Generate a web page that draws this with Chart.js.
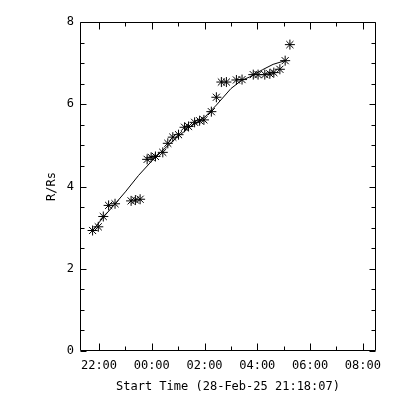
<!DOCTYPE html>
<html>
<head>
<meta charset="utf-8">
<script src="https://cdn.jsdelivr.net/npm/chart.js@4"></script>
<style>body{margin:0;background:#fff}</style>
</head>
<body>
<canvas id="heightTime" width="400" height="400"></canvas>
<script>
const xTitle = "Start Time (28-Feb-25 21:18:07)";
const yTitle = "R/Rs";

// times in hours after 28-Feb 00:00
const obsTime = [21.757, 21.973, 22.163, 22.365, 22.608, 23.217, 23.38, 23.559,
  23.825, 23.977, 24.14, 24.418, 24.608, 24.798, 25.015, 25.243, 25.395, 25.624,
  25.814, 25.977, 26.259, 26.449, 26.639, 26.829, 27.209, 27.422, 27.848, 28.03,
  28.285, 28.475, 28.627, 28.856, 29.057, 29.236];
const obsHeight = [2.93, 3.02, 3.27, 3.54, 3.58, 3.65, 3.67, 3.69,
  4.66, 4.71, 4.73, 4.83, 5.05, 5.20, 5.26, 5.44, 5.46, 5.56,
  5.60, 5.62, 5.82, 6.17, 6.54, 6.54, 6.59, 6.60, 6.72, 6.72,
  6.72, 6.74, 6.77, 6.85, 7.06, 7.45];

const fitTime = [21.757, 22.16, 22.6, 23.0, 23.5, 24.0, 24.5, 25.0, 25.5, 26.0,
  26.45, 27.0, 27.4, 27.7, 28.2, 28.6, 29.057];
const fitHeight = [2.93, 3.25, 3.57, 3.87, 4.27, 4.62, 4.93, 5.22, 5.47, 5.68,
  5.98, 6.38, 6.58, 6.66, 6.84, 6.97, 7.06];

const xMajor = [22, 24, 26, 28, 30, 32];
const xMinor = [23, 25, 27, 29, 31];
const yMajor = [0, 2, 4, 6, 8];
const yMinor = [0.5, 1, 1.5, 2.5, 3, 3.5, 4.5, 5, 5.5, 6.5, 7, 7.5];

const font = { family: "'DejaVu Sans Mono'", size: 12 };

function hhmm(h) {
  return String(Math.round(h) % 24).padStart(2, "0") + ":00";
}

// IDL style box with inward ticks on all four sides
const idlFrame = {
  id: "idlFrame",
  afterDraw(chart) {
    const { ctx, chartArea: a, scales } = chart;
    const L = Math.round(a.left) + 0.5, R = Math.round(a.right) - 0.5;
    const T = Math.round(a.top) + 0.5, B = Math.round(a.bottom) - 0.5;
    ctx.save();
    ctx.strokeStyle = "#000";
    ctx.lineWidth = 1;
    ctx.beginPath();
    ctx.rect(L, T, R - L, B - T);
    const xt = (vals, len) => vals.forEach(v => {
      const p = Math.round(scales.x.getPixelForValue(v)) + 0.5;
      ctx.moveTo(p, B); ctx.lineTo(p, B - len);
      ctx.moveTo(p, T); ctx.lineTo(p, T + len);
    });
    const yt = (vals, len) => vals.forEach(v => {
      const p = Math.round(scales.y.getPixelForValue(v)) + 0.5;
      ctx.moveTo(L, p); ctx.lineTo(L + len, p);
      ctx.moveTo(R, p); ctx.lineTo(R - len, p);
    });
    xt(xMajor, 7); xt(xMinor, 4);
    yt(yMajor, 6); yt(yMinor, 4);
    ctx.stroke();
    ctx.restore();
  }
};

new Chart(document.getElementById("heightTime"), {
  type: "scatter",
  data: {
    datasets: [
      {
        data: fitTime.map((t, i) => ({ x: t, y: fitHeight[i] })),
        showLine: true,
        borderColor: "#000",
        borderWidth: 1,
        pointRadius: 0
      },
      {
        data: obsTime.map((t, i) => ({ x: t, y: obsHeight[i] })),
        pointStyle: "star",
        pointRadius: 5,
        borderColor: "#000",
        backgroundColor: "#000",
        borderWidth: 1
      }
    ]
  },
  options: {
    responsive: false,
    animation: false,
    events: [],
    layout: { padding: { top: 22, right: 24, left: 0, bottom: 0 } },
    plugins: { legend: { display: false }, tooltip: { enabled: false } },
    scales: {
      x: {
        type: "linear",
        min: 21.28,
        max: 32.5,
        afterBuildTicks: s => { s.ticks = xMajor.map(v => ({ value: v })); },
        afterFit: s => { s.height = 49; },
        grid: { display: false, drawTicks: false },
        border: { display: false },
        ticks: { font, color: "#000", padding: 8, maxRotation: 0, autoSkip: false, callback: v => hhmm(v) },
        title: { display: true, text: xTitle, font, color: "#000", padding: { top: 4, bottom: 6 } }
      },
      y: {
        min: 0,
        max: 8,
        afterBuildTicks: s => { s.ticks = yMajor.map(v => ({ value: v })); },
        afterFit: s => { s.width = 80; },
        grid: { display: false, drawTicks: false },
        border: { display: false },
        ticks: { font, color: "#000", padding: 6 },
        title: { display: true, text: yTitle, font, color: "#000", padding: { top: 45 } }
      }
    }
  },
  plugins: [idlFrame]
});
</script>
</body>
</html>
